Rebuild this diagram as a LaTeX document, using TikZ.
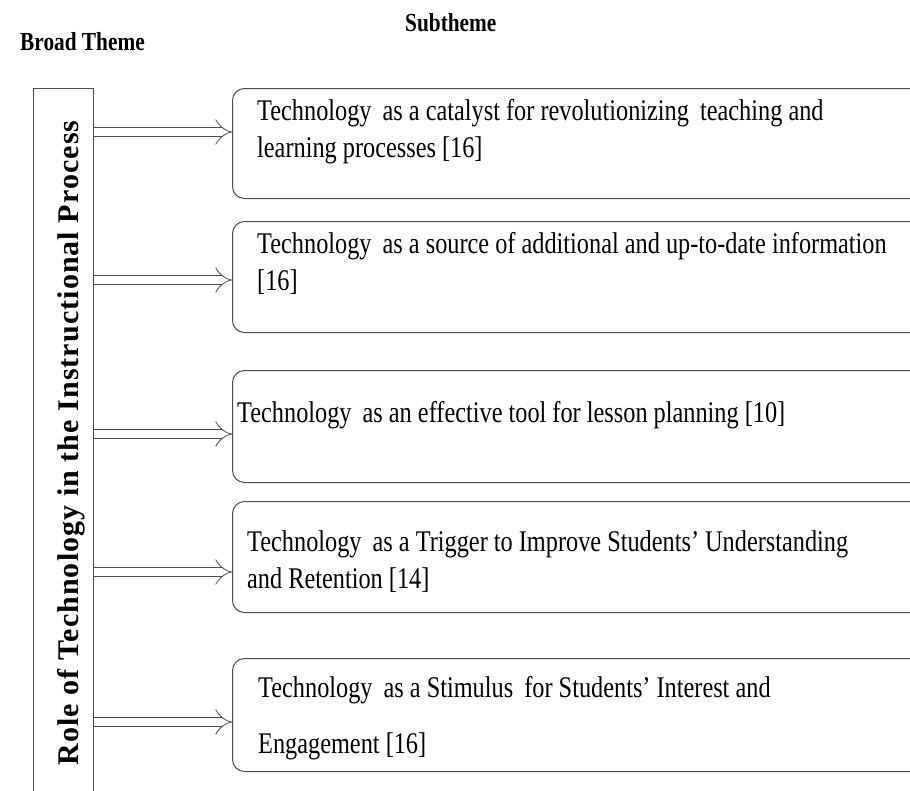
\documentclass[tikz,border=0pt]{standalone}
\usepackage{fontspec}
\setmainfont{Liberation Serif}
\newfontfamily\subfont{Liberation Serif}[FakeStretch=0.81]
\newfontfamily\headfont{Liberation Serif}[FakeStretch=0.82]
\newfontfamily\rolefont{Liberation Serif}[LetterSpace=3.6]
\usetikzlibrary{arrows.meta,positioning}

\begin{document}
\begin{tikzpicture}[
    x=1pt, y=1pt,
    head/.style={font=\headfont\bfseries\fontsize{26}{30}\selectfont, inner sep=0pt},
    broadbox/.style={rectangle, draw=gray!60!black, line width=1pt, minimum width=60pt, minimum height=730pt, inner sep=0pt},
    roletext/.style={font=\rolefont\bfseries\fontsize{30}{34}\selectfont, inner sep=0pt},
    subbox/.style={rectangle, draw=gray!60!black, line width=1pt, rounded corners=12pt, minimum width=703pt, inner sep=0pt},
    subtext/.style={font=\subfont\fontsize{30}{37}\selectfont, align=left, inner sep=0pt},
    dblarrow/.style={draw=gray!60!black, line width=0.8pt, double=white, double distance=8.5pt, -{Implies}}
]
\clip (0,0) rectangle (910,-790);

% Headings
\node[head, anchor=base west] (broadhead) at (20,-50) {Broad Theme};
\node[head, anchor=base west] (subhead) at (405,-31) {Subtheme};

% Broad theme
\node[broadbox, anchor=north west] (broad) at (33,-88) {};
\node[roletext, rotate=90, anchor=base] (role) at (78,-443) {Role of Technology in the Instructional Process};

% Subthemes
\node[subbox, minimum height=110pt, anchor=north west] (s1) at (232,-88) {};
\node[subbox, minimum height=111pt, below=22pt of s1] (s2) {};
\node[subbox, minimum height=112pt, below=37pt of s2] (s3) {};
\node[subbox, minimum height=111pt, below=18pt of s3] (s4) {};
\node[subbox, minimum height=113pt, below=45pt of s4] (s5) {};

% (base = last line)
\node[subtext, anchor=base west] (t1) at (257,-157) {Technology\, as a catalyst for revolutionizing\, teaching and\\learning processes [16]};
\node[subtext, anchor=base west] (t2) at (257,-290) {Technology\, as a source of additional and up-to-date information\\{[16]}};
\node[subtext, anchor=base west] (t3) at (237,-422) {Technology\, as an effective tool for lesson planning [10]};
\node[subtext, anchor=base west] (t4) at (247,-588) {Technology\, as a Trigger to Improve Students’ Understanding\\and Retention [14]};
\node[subtext, anchor=base west] (t5) at (258,-753) {Technology\, as a Stimulus\, for Students’ Interest and\\[19pt]Engagement [16]};

% Arrows
\draw[dblarrow] (broad.east |- 0,-132) -- (s1.west |- 0,-132);
\draw[dblarrow] (broad.east |- 0,-280) -- (s2.west |- 0,-280);
\draw[dblarrow] (broad.east |- 0,-434) -- (s3.west |- 0,-434);
\draw[dblarrow] (broad.east |- 0,-572) -- (s4.west |- 0,-572);
\draw[dblarrow] (broad.east |- 0,-722) -- (s5.west |- 0,-722);

\end{tikzpicture}
\end{document}
